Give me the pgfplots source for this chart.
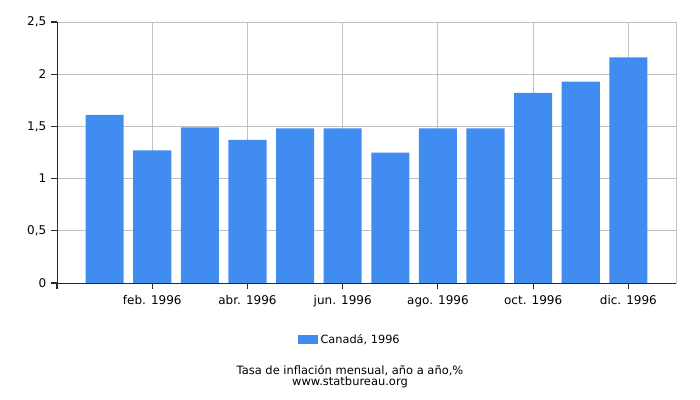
\documentclass[border=0pt]{standalone}
\usepackage{pgfplots}
\pgfplotsset{compat=1.18}
\usepackage{fontspec}
\setmainfont{DejaVu Sans}
\definecolor{barblue}{RGB}{65,140,240}
\definecolor{gridgray}{RGB}{192,192,192}
\definecolor{axisdark}{RGB}{40,40,40}
\begin{document}
\begin{tikzpicture}[x=0.75pt,y=0.75pt]
\path[use as bounding box] (0,0) rectangle (700,400);
\begin{axis}[
    at={(42.75pt,87.75pt)}, anchor=south west,
    scale only axis,
    width=464.25pt, height=195.75pt,
    xmin=0, xmax=13, ymin=0, ymax=2.5,
    ybar, bar width=0.8,
    xtick={0,2,4,6,8,10,12},
    xticklabels={,feb. 1996,abr. 1996,jun. 1996,ago. 1996,oct. 1996,dic. 1996},
    ytick={0,0.5,1,1.5,2,2.5},
    yticklabel style={/pgf/number format/.cd,use comma,fixed,precision=1},
    /pgf/number format/assume math mode=true,
    tick label style={font=\fontsize{9pt}{11pt}\selectfont, text=black},
    xticklabel style={yshift=-1.5pt},
    xtick pos=bottom, ytick pos=left,
    tick align=outside, major tick length=4.5pt,
    tick style={axisdark, line width=0.8pt},
    grid=major,
    major grid style={gridgray, line width=0.75pt},
    axis line style={gridgray, line width=0.75pt},
    legend style={at={(0.4735,-0.218)}, anchor=center, draw=none, fill=none,
        font=\fontsize{8.5pt}{10pt}\selectfont},
    legend image code/.code={\fill[barblue] (-4pt,-3.4pt) rectangle (11pt,3.4pt);},
]
\addplot[fill=barblue, draw=none] coordinates {
    (1,1.61) (2,1.27) (3,1.49) (4,1.37) (5,1.48) (6,1.48)
    (7,1.25) (8,1.48) (9,1.48) (10,1.82) (11,1.93) (12,2.16)
};
\addlegendentry{Canadá, 1996}
\draw[axisdark, line width=0.75pt] (rel axis cs:0,1) -- (rel axis cs:0,0) -- (rel axis cs:1,0);
\end{axis}
\node[font=\fontsize{8.6pt}{10pt}\selectfont, inner sep=0pt] at (350,29) {Tasa de inflación mensual, año a año,\%};
\node[font=\fontsize{8.6pt}{10pt}\selectfont, inner sep=0pt] at (350,18) {www.statbureau.org};
\end{tikzpicture}
\end{document}
